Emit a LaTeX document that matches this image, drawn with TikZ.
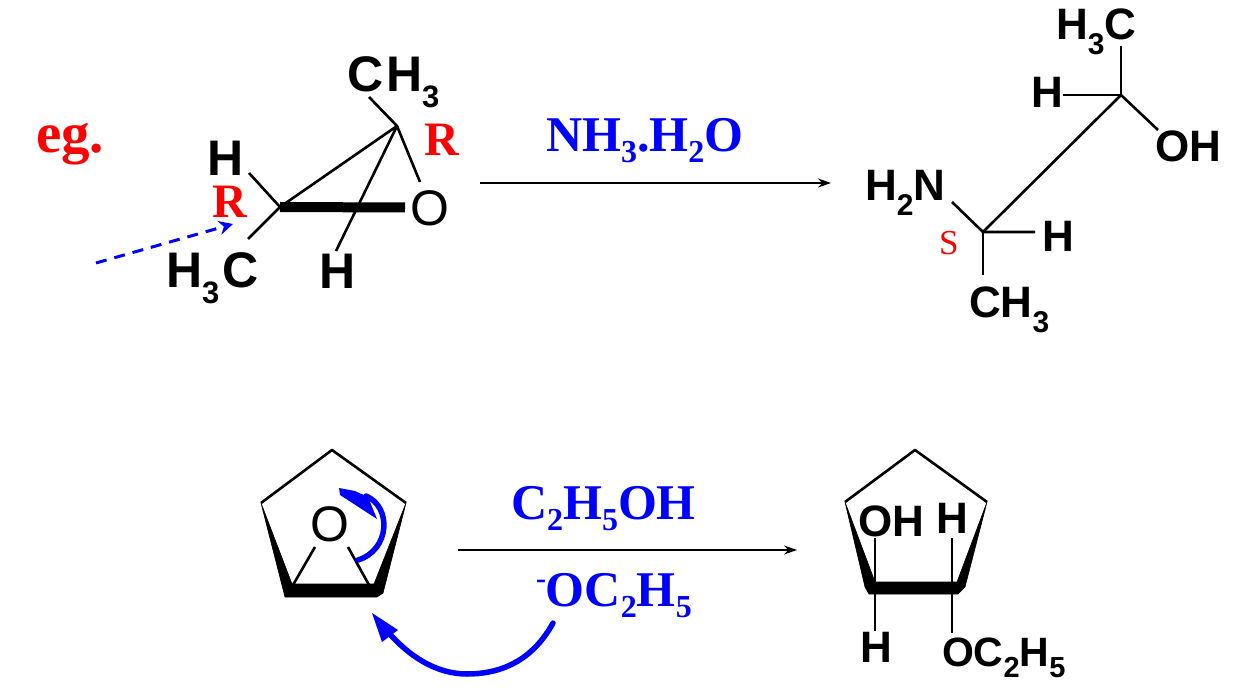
\documentclass[tikz,border=0pt]{standalone}
\usepackage{fontspec}
\setmainfont{Liberation Serif}
\setsansfont{Liberation Sans}
\usetikzlibrary{arrows.meta}
\newcommand{\fs}[1]{\fontsize{#1}{#1}\selectfont}
\newcommand{\lsub}[1]{\raisebox{-16pt}{\fs{31}#1}}
\newcommand{\msub}[1]{\raisebox{-15pt}{\fs{30}#1}}
\newcommand{\ssub}[1]{\raisebox{-11pt}{\fs{29}#1}}
\newcommand{\bsub}[1]{\raisebox{-11pt}{\fs{32}#1}}
\tikzset{
  every node/.style={inner sep=0pt,outer sep=0pt,anchor=base west},
  labelL/.style={font=\sffamily\bfseries\fs{50}},
  labelM/.style={font=\sffamily\bfseries\fs{44}},
  oxy/.style={font=\sffamily\fs{50}},
  redR/.style={font=\rmfamily\bfseries\fs{48},text=red},
  reag/.style={font=\rmfamily\bfseries\fs{50},text=blue},
  bond/.style={draw=black,line width=2.6pt},
  react/.style={draw=black,line width=1.8pt,-{Stealth[length=13pt,width=9pt]}},
  curly/.style={draw=blue,line width=5.5pt,line cap=round},
  wedgefill/.style={fill=black,draw=black,line width=.6pt,line join=round},
}
\begin{document}
\begin{tikzpicture}[x=1pt,y=-1pt]
\useasboundingbox (0,0) rectangle (1233,700);
% labels
\node[font=\rmfamily\bfseries\fs{57},text=red] (eg) at (36,153) {eg.};
% --- upper left epoxide
\coordinate (ca) at (280,207);
\coordinate (cb) at (397,126);
\coordinate (hA) at (249,173);
\coordinate (meA) at (248,239);
\coordinate (meB) at (369,97);
\coordinate (oB) at (420,182);
\coordinate (hB) at (336,251);
\coordinate (oT) at (405,207.5);
\coordinate (dashS) at (96,263);
\coordinate (dashE) at (233,224);
\node[labelL] (ch3a) at (347,92) {C\hspace{3pt}H\lsub{3}};
\node[labelL] (ha) at (207,176) {H};
\node[redR] (r1) at (212,218) {R};
\node[redR] (r2) at (424,156) {R};
\node[labelL] (h3ca) at (166,288) {H\lsub{3}\hspace{3pt}C};
\node[oxy] (oa) at (410,226) {O};
\node[labelL] (hb) at (319,289) {H};
\draw[bond] (ca)--(cb);
\draw[bond] (hA)--(ca)--(meA);
\draw[bond] (meB)--(cb)--(oB);
\draw[bond] (cb)--(hB);
\draw[draw=black,line width=10pt] (ca)--(oT);
\draw[blue,line width=3pt,dash pattern=on 11pt off 8pt,-{Stealth[length=14pt,width=14pt]}] (dashS)--(dashE);
% --- first reaction arrow
\coordinate (ra1) at (480,183);
\coordinate (ra2) at (831,183);
\draw[react] (ra1)--(ra2);
\node[reag] (nh3) at (546,152) {NH\bsub{3}.H\bsub{2}O};
% --- product upper right
\coordinate (c1) at (1121,95);
\coordinate (c2) at (983,232);
\coordinate (tMe) at (1121,46);
\coordinate (tH) at (1063,95);
\coordinate (tOH) at (1158,130);
\coordinate (tN) at (952,202);
\coordinate (tH2) at (1035,232);
\coordinate (tMe2) at (983,275);
\node[labelM] (h3cb) at (1056,40) {H\msub{3}C};
\node[labelM] (hc) at (1031,108) {H};
\node[labelM] (oh) at (1155,162) {OH};
\node[labelM] (h2n) at (865,201) {H\msub{2}N};
\node[font=\rmfamily\fs{35},text=red] (s) at (939,255) {S};
\node[labelM] (hd) at (1042,252) {H};
\node[labelM] (ch3b) at (969,317) {CH\msub{3}};
\draw[bond] (tMe)--(c1)--(tH);
\draw[bond] (tOH)--(c1)--(c2);
\draw[bond] (tN)--(c2)--(tH2);
\draw[bond] (c2)--(tMe2);
% --- lower left ring
\coordinate (p1) at (332,450);
\coordinate (p2) at (406,503);
\coordinate (p3) at (261,503);
\draw[bond,line join=round] (p3)--(p1)--(p2);
\fill[wedgefill] (p3)--(292,584)--(374,584)--(p2)--(383,593)--(377,597)--(285,597)--cycle;
\node[oxy] (ob) at (310,541) {O};
\coordinate (bl1) at (315,547); \coordinate (bl2) at (293,585);
\coordinate (br1) at (348,547); \coordinate (br2) at (369,585);
\draw[bond] (bl1)--(bl2);
\draw[bond] (br1)--(br2);
\coordinate (t1) at (358,560);
\coordinate (t2) at (366,496);
\draw[curly] (t1) .. controls (390,550) and (392,507) .. (t2);
\fill[blue] (339,488)--(340,495)--(377,519)--(368,497)--(355,491)--cycle;
% --- second reaction arrow
\coordinate (rb1) at (458,550);
\coordinate (rb2) at (797,550);
\draw[react] (rb1)--(rb2);
\node[reag] (etoh) at (511,519) {C\bsub{2}H\bsub{5}OH};
\node[reag] (oet) at (536,606) {\raisebox{18pt}{\fs{30}-}OC\bsub{2}H\bsub{5}};
\coordinate (u1) at (553,623);
\coordinate (u2) at (388,632);
\draw[curly] (u1) .. controls (530,665) and (495,674) .. (467,674) .. controls (435,674) and (408,655) .. (u2);
\fill[blue] (372,613)--(382,642)--(398,630)--cycle;
% --- lower right ring
\coordinate (q1) at (915,450);
\coordinate (q2) at (987,502);
\coordinate (q3) at (845,502);
\draw[bond,line join=round] (q3)--(q1)--(q2);
\fill[wedgefill] (q3)--(875,582)--(957,582)--(q2)--(965,587)--(958,594)--(869,594)--(865,587)--cycle;
\coordinate (d1) at (875,538); \coordinate (d2) at (875,631);
\coordinate (e1) at (952,538); \coordinate (e2) at (952,633);
\draw[bond] (d1)--(d2);
\draw[bond] (e1)--(e2);
\node[labelM] (ohb) at (858,536) {OH};
\node[labelM] (he) at (936,533) {H};
\node[labelM] (hf) at (860,662) {H};
\node[font=\sffamily\bfseries\fs{41}] (oet2) at (942,666) {OC\ssub{2}H\ssub{5}};
\end{tikzpicture}
\end{document}
